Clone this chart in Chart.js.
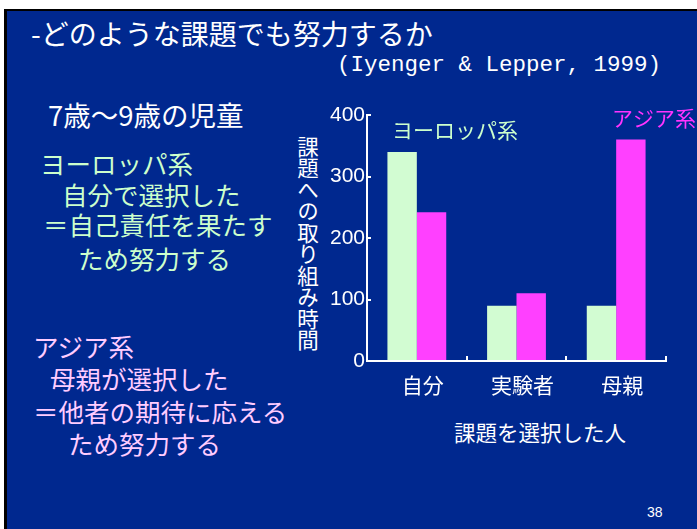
<!DOCTYPE html>
<html lang="ja">
<head>
<meta charset="utf-8">
<script src="https://cdn.jsdelivr.net/npm/chart.js@4.4.0/dist/chart.umd.min.js"></script>
<style>
  body { margin: 0; width: 697px; height: 529px; background: #fff; overflow: hidden; position: relative; font-family: "Noto Sans CJK JP", sans-serif; }
  #slide { position: absolute; left: 4px; top: 9px; right: 0; bottom: 0; background: #00288f; border-left: 3px solid #000; border-top: 2px solid #000; }
  .t { position: absolute; white-space: nowrap; line-height: 1; color: #fff; }
  .eu { color: #ccffcc; font-size: 25.5px; }
  .as { color: #ffccff; font-size: 25.5px; }
  #ytitle { position: absolute; left: 297px; top: 136px; writing-mode: vertical-rl; text-orientation: upright; font-size: 21.5px; line-height: 1; color: #fff; }
  #wrap { position: absolute; left: 0; top: 0; width: 697px; height: 529px; }
</style>
</head>
<body>
<div id="slide"></div>

<div class="t" style="left:31px; top:19px; font-size:28px;">-どのような課題でも努力するか</div>
<div class="t" style="left:337px; top:54px; font-size:22.5px; font-family:'Liberation Mono', monospace;">(Iyenger &amp; Lepper, 1999)</div>

<div class="t" style="left:48px; top:101px; font-size:27.5px;">7歳～9歳の児童</div>

<div class="t eu" style="left:40px; top:150px;">ヨーロッパ系</div>
<div class="t eu" style="left:62px; top:181px;">自分で選択した</div>
<div class="t eu" style="left:43px; top:211px;">＝自己責任を果たす</div>
<div class="t eu" style="left:78px; top:245px;">ため努力する</div>

<div class="t as" style="left:33px; top:333px;">アジア系</div>
<div class="t as" style="left:50px; top:365px;">母親が選択した</div>
<div class="t as" style="left:33px; top:398px;">＝他者の期待に応える</div>
<div class="t as" style="left:68px; top:430px;">ため努力する</div>

<div id="ytitle">課題への取り組み時間</div>
<div class="t" style="left:454px; top:421px; font-size:21.5px;">課題を選択した人</div>
<div class="t" style="left:647px; top:505px; font-size:14px; font-family:'Liberation Sans', sans-serif;">38</div>

<div id="wrap"><canvas id="chart"></canvas></div>

<script>
// データ
const categories = ['自分', '実験者', '母親'];
const seriesNames = ['ヨーロッパ系', 'アジア系'];
const europeValues = [340, 90, 90];
const asiaValues = [242, 110, 360];
const yTicks = [0, 100, 200, 300, 400];

// 系列名をグラフ内に書く
const seriesLabels = {
  id: 'seriesLabels',
  afterDatasetsDraw(chart, args, opts) {
    const ctx = chart.ctx;
    ctx.save();
    ctx.font = '21px "Noto Sans CJK JP"';
    ctx.textBaseline = 'middle';
    chart.data.datasets.forEach((ds, i) => {
      const p = opts.positions[i];
      ctx.fillStyle = ds.textColor;
      ctx.fillText(ds.label, p.x, p.y);
    });
    ctx.restore();
  }
};

new Chart(document.getElementById('chart'), {
  type: 'bar',
  data: {
    labels: categories,
    datasets: [
      { label: seriesNames[0], data: europeValues, backgroundColor: '#d2fcd2', textColor: '#ccffcc' },
      { label: seriesNames[1], data: asiaValues, backgroundColor: '#ff40ff', textColor: '#ff33ff' }
    ]
  },
  options: {
    responsive: true,
    maintainAspectRatio: false,
    animation: false,
    layout: { padding: { left: 317, right: 31, top: 115, bottom: 128 } },
    datasets: { bar: { categoryPercentage: 0.59, barPercentage: 1.0 } },
    plugins: {
      legend: { display: false },
      tooltip: { enabled: false },
      seriesLabels: { positions: [{ x: 392, y: 130 }, { x: 612, y: 118 }] }
    },
    scales: {
      x: {
        afterFit: s => { s.height = 40; },
        grid: {
          drawOnChartArea: false,
          tickLength: -5,
          lineWidth: 2,
          color: c => c.index === categories.length ? 'rgba(0,0,0,0)' : '#fff'
        },
        border: { color: '#fff', width: 2 },
        ticks: { color: '#fff', font: { family: 'Noto Sans CJK JP', size: 21 }, padding: 16, labelOffset: 6 }
      },
      y: {
        min: 0,
        max: 400,
        afterFit: s => { s.width = 50; },
        afterBuildTicks: s => { s.ticks = yTicks.map(v => ({ value: v })); },
        grid: { drawOnChartArea: false, tickLength: -4, lineWidth: 2, color: '#fff' },
        border: { color: '#fff', width: 2 },
        ticks: { color: '#fff', font: { family: 'Liberation Sans', size: 21 }, padding: 6 }
      }
    }
  },
  plugins: [seriesLabels]
});
</script>
</body>
</html>
